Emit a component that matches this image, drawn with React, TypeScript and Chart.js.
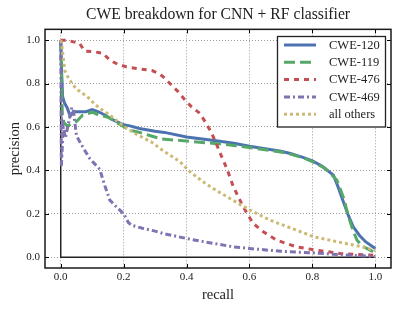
import React, { useEffect, useRef } from "react";
import { Chart, registerables } from "chart.js";

Chart.register(...registerables);

const seriesNames = ["CWE-120", "CWE-119", "CWE-476", "CWE-469", "all others"];
const tickValues = [0, 0.2, 0.4, 0.6, 0.8, 1.0];

const cwe120Recall = [0, 0.003, 0.006, 0.012, 0.02, 0.03, 0.04, 0.06, 0.08, 0.1, 0.12, 0.14, 0.17, 0.2, 0.22, 0.25, 0.3, 0.33, 0.4, 0.45, 0.5, 0.55, 0.6, 0.65, 0.7, 0.73, 0.77, 0.8, 0.83, 0.867, 0.88, 0.9, 0.915, 0.93, 0.95, 0.97, 1.0];
const cwe120Precision = [1.0, 0.85, 0.74, 0.71, 0.69, 0.65, 0.67, 0.67, 0.67, 0.68, 0.67, 0.655, 0.63, 0.61, 0.605, 0.593, 0.58, 0.575, 0.554, 0.545, 0.535, 0.525, 0.511, 0.5, 0.488, 0.478, 0.46, 0.444, 0.42, 0.378, 0.33, 0.25, 0.19, 0.14, 0.1, 0.07, 0.04];

const cwe119Recall = [0, 0.003, 0.005, 0.01, 0.02, 0.035, 0.05, 0.07, 0.1, 0.12, 0.15, 0.19, 0.22, 0.25, 0.28, 0.32, 0.4, 0.49, 0.55, 0.6, 0.65, 0.7, 0.73, 0.77, 0.8, 0.84, 0.878, 0.9, 0.915, 0.93, 0.942, 0.96, 1.0];
const cwe119Precision = [1.0, 0.8, 0.66, 0.62, 0.605, 0.615, 0.625, 0.655, 0.668, 0.655, 0.645, 0.61, 0.585, 0.575, 0.562, 0.545, 0.535, 0.524, 0.515, 0.505, 0.495, 0.485, 0.475, 0.458, 0.44, 0.41, 0.355, 0.27, 0.186, 0.12, 0.078, 0.05, 0.02];

const cwe476Recall = [0, 0.02, 0.06, 0.076, 0.1, 0.134, 0.156, 0.18, 0.209, 0.25, 0.29, 0.31, 0.326, 0.352, 0.374, 0.395, 0.416, 0.443, 0.459, 0.475, 0.49, 0.512, 0.528, 0.549, 0.58, 0.612, 0.644, 0.687, 0.75, 0.814, 0.889, 1.0];
const cwe476Precision = [1.0, 1.0, 0.985, 0.95, 0.948, 0.94, 0.908, 0.89, 0.877, 0.868, 0.86, 0.848, 0.831, 0.793, 0.762, 0.724, 0.693, 0.662, 0.624, 0.585, 0.539, 0.462, 0.409, 0.324, 0.232, 0.155, 0.117, 0.078, 0.047, 0.032, 0.017, 0.008];

const cwe469Recall = [0, 0.002, 0.008, 0.015, 0.025, 0.035, 0.04, 0.05, 0.065, 0.076, 0.092, 0.108, 0.124, 0.14, 0.156, 0.177, 0.2, 0.215, 0.225, 0.26, 0.3, 0.326, 0.4, 0.44, 0.5, 0.55, 0.6, 0.7, 0.8, 0.9, 1.0];
const cwe469Precision = [1.0, 0.42, 0.6, 0.55, 0.62, 0.69, 0.68, 0.56, 0.52, 0.493, 0.455, 0.43, 0.405, 0.33, 0.263, 0.232, 0.2, 0.16, 0.147, 0.133, 0.12, 0.109, 0.086, 0.075, 0.06, 0.047, 0.04, 0.027, 0.02, 0.01, 0.003];

const othersRecall = [0, 0.003, 0.007, 0.013, 0.023, 0.039, 0.055, 0.076, 0.092, 0.108, 0.13, 0.156, 0.177, 0.204, 0.236, 0.289, 0.326, 0.379, 0.41, 0.45, 0.485, 0.538, 0.602, 0.666, 0.75, 0.804, 0.889, 0.963, 1.0];
const othersPrecision = [1.0, 0.985, 0.93, 0.86, 0.83, 0.793, 0.77, 0.748, 0.73, 0.705, 0.68, 0.655, 0.63, 0.6, 0.57, 0.53, 0.49, 0.44, 0.395, 0.35, 0.316, 0.27, 0.217, 0.17, 0.124, 0.094, 0.068, 0.046, 0.03];

const baselineRecall = [0, 0, 1];
const baselinePrecision = [1, 0, 0];

const seriesRecall = [cwe120Recall, cwe119Recall, cwe476Recall, cwe469Recall, othersRecall];
const seriesPrecision = [cwe120Precision, cwe119Precision, cwe476Precision, cwe469Precision, othersPrecision];
const seriesColors = ["#4c72b0", "#55a868", "#c44e52", "#8172b2", "#ccb974"];
const seriesDash: number[][] = [[], [11, 5], [5, 5], [6, 3, 2, 3], [3, 3]];

const SERIF = "'Liberation Serif', 'DejaVu Serif', serif";

const zip = (xs: number[], ys: number[]) => xs.map((x, i) => ({ x, y: ys[i] }));

const framePlugin = {
  id: "frameAndLegend",
  afterDraw(chart: any) {
    const { ctx, chartArea, scales } = chart;
    const { left, right, top, bottom } = chartArea;
    ctx.save();
    // inward ticks
    ctx.strokeStyle = "#000";
    ctx.lineWidth = 1;
    ctx.setLineDash([]);
    tickValues.forEach((v) => {
      const px = Math.round(scales.x.getPixelForValue(v)) + 0.5;
      const py = Math.round(scales.y.getPixelForValue(v)) + 0.5;
      ctx.beginPath();
      ctx.moveTo(px, bottom);
      ctx.lineTo(px, bottom - 4);
      ctx.moveTo(px, top);
      ctx.lineTo(px, top + 4);
      ctx.moveTo(left, py);
      ctx.lineTo(left + 4, py);
      ctx.moveTo(right, py);
      ctx.lineTo(right - 4, py);
      ctx.stroke();
    });
    // frame
    ctx.strokeStyle = "#1a1a1a";
    ctx.lineWidth = 1.5;
    ctx.strokeRect(left, top, right - left, bottom - top);

    // legend
    const lx = 277.5, ly = 36.5, lw = 108, lh = 90.5;
    ctx.fillStyle = "#fff";
    ctx.fillRect(lx, ly, lw, lh);
    ctx.strokeStyle = "#222";
    ctx.lineWidth = 1.3;
    ctx.strokeRect(lx, ly, lw, lh);
    ctx.font = `12.5px ${SERIF}`;
    ctx.textBaseline = "middle";
    ctx.textAlign = "left";
    seriesNames.forEach((name, i) => {
      const y = 45 + i * 17.3;
      ctx.beginPath();
      ctx.setLineDash(seriesDash[i]);
      ctx.strokeStyle = seriesColors[i];
      ctx.lineWidth = 3;
      ctx.lineCap = "butt";
      ctx.moveTo(284, y);
      ctx.lineTo(316, y);
      ctx.stroke();
      ctx.setLineDash([]);
      ctx.fillStyle = "#222";
      ctx.fillText(name, 329, y + 0.5);
    });
    ctx.restore();
  },
};

export default function App() {
  const canvasRef = useRef<HTMLCanvasElement | null>(null);

  useEffect(() => {
    document.body.style.margin = "0";
    const canvas = canvasRef.current;
    if (!canvas) return;

    const datasets: any[] = seriesNames.map((name, i) => ({
      label: name,
      data: zip(seriesRecall[i], seriesPrecision[i]),
      borderColor: seriesColors[i],
      backgroundColor: seriesColors[i],
      borderWidth: 3,
      borderDash: seriesDash[i],
      borderCapStyle: "butt",
      pointRadius: 0,
      tension: 0,
      fill: false,
      order: 10 - i,
    }));
    datasets.push({
      label: "baseline",
      data: zip(baselineRecall, baselinePrecision),
      borderColor: "#222",
      borderWidth: 1.5,
      pointRadius: 0,
      tension: 0,
      fill: false,
      order: 100,
    });

    const tickFont = { family: SERIF, size: 11 };

    const chart = new Chart(canvas, {
      type: "line",
      data: { datasets },
      plugins: [framePlugin],
      options: {
        animation: false,
        responsive: false,
        maintainAspectRatio: false,
        layout: { padding: { left: 0, right: 8, top: 0, bottom: 0 } },
        plugins: {
          legend: { display: false },
          tooltip: { enabled: false },
          title: {
            display: true,
            fullSize: false,
            text: "CWE breakdown for CNN + RF classifier",
            color: "#222",
            font: { family: SERIF, size: 15.7, weight: "normal" },
            padding: { top: 5.5, bottom: 5 },
          },
        },
        scales: {
          x: {
            type: "linear",
            min: -0.05,
            max: 1.05,
            afterBuildTicks: (scale: any) => {
              scale.ticks = tickValues.map((v) => ({ value: v }));
            },
            afterFit: (scale: any) => {
              scale.height = 41;
            },
            ticks: {
              color: "#222",
              font: tickFont,
              padding: 3,
              maxRotation: 0,
              callback: (v: any) => Number(v).toFixed(1),
            },
            grid: { color: "#999", lineWidth: 1, drawTicks: false },
            border: { display: false, dash: [1, 2] },
            title: {
              display: true,
              text: "recall",
              color: "#222",
              font: { family: SERIF, size: 14.5 },
              padding: { top: 0, bottom: 5 },
            },
          },
          y: {
            type: "linear",
            min: -0.05,
            max: 1.05,
            afterBuildTicks: (scale: any) => {
              scale.ticks = tickValues.map((v) => ({ value: v }));
            },
            afterFit: (scale: any) => {
              scale.width = 45;
            },
            ticks: {
              color: "#222",
              font: tickFont,
              padding: 5,
              callback: (v: any) => Number(v).toFixed(1),
            },
            grid: { color: "#999", lineWidth: 1, drawTicks: false },
            border: { display: false, dash: [1, 2] },
            title: {
              display: true,
              text: "precision",
              color: "#222",
              font: { family: SERIF, size: 14.5 },
              padding: { top: 6.5, bottom: 0 },
            },
          },
        },
      },
    });

    return () => chart.destroy();
  }, []);

  return (
    <div style={{ width: 399, height: 309 }}>
      <canvas ref={canvasRef} width={399} height={309} />
    </div>
  );
}
